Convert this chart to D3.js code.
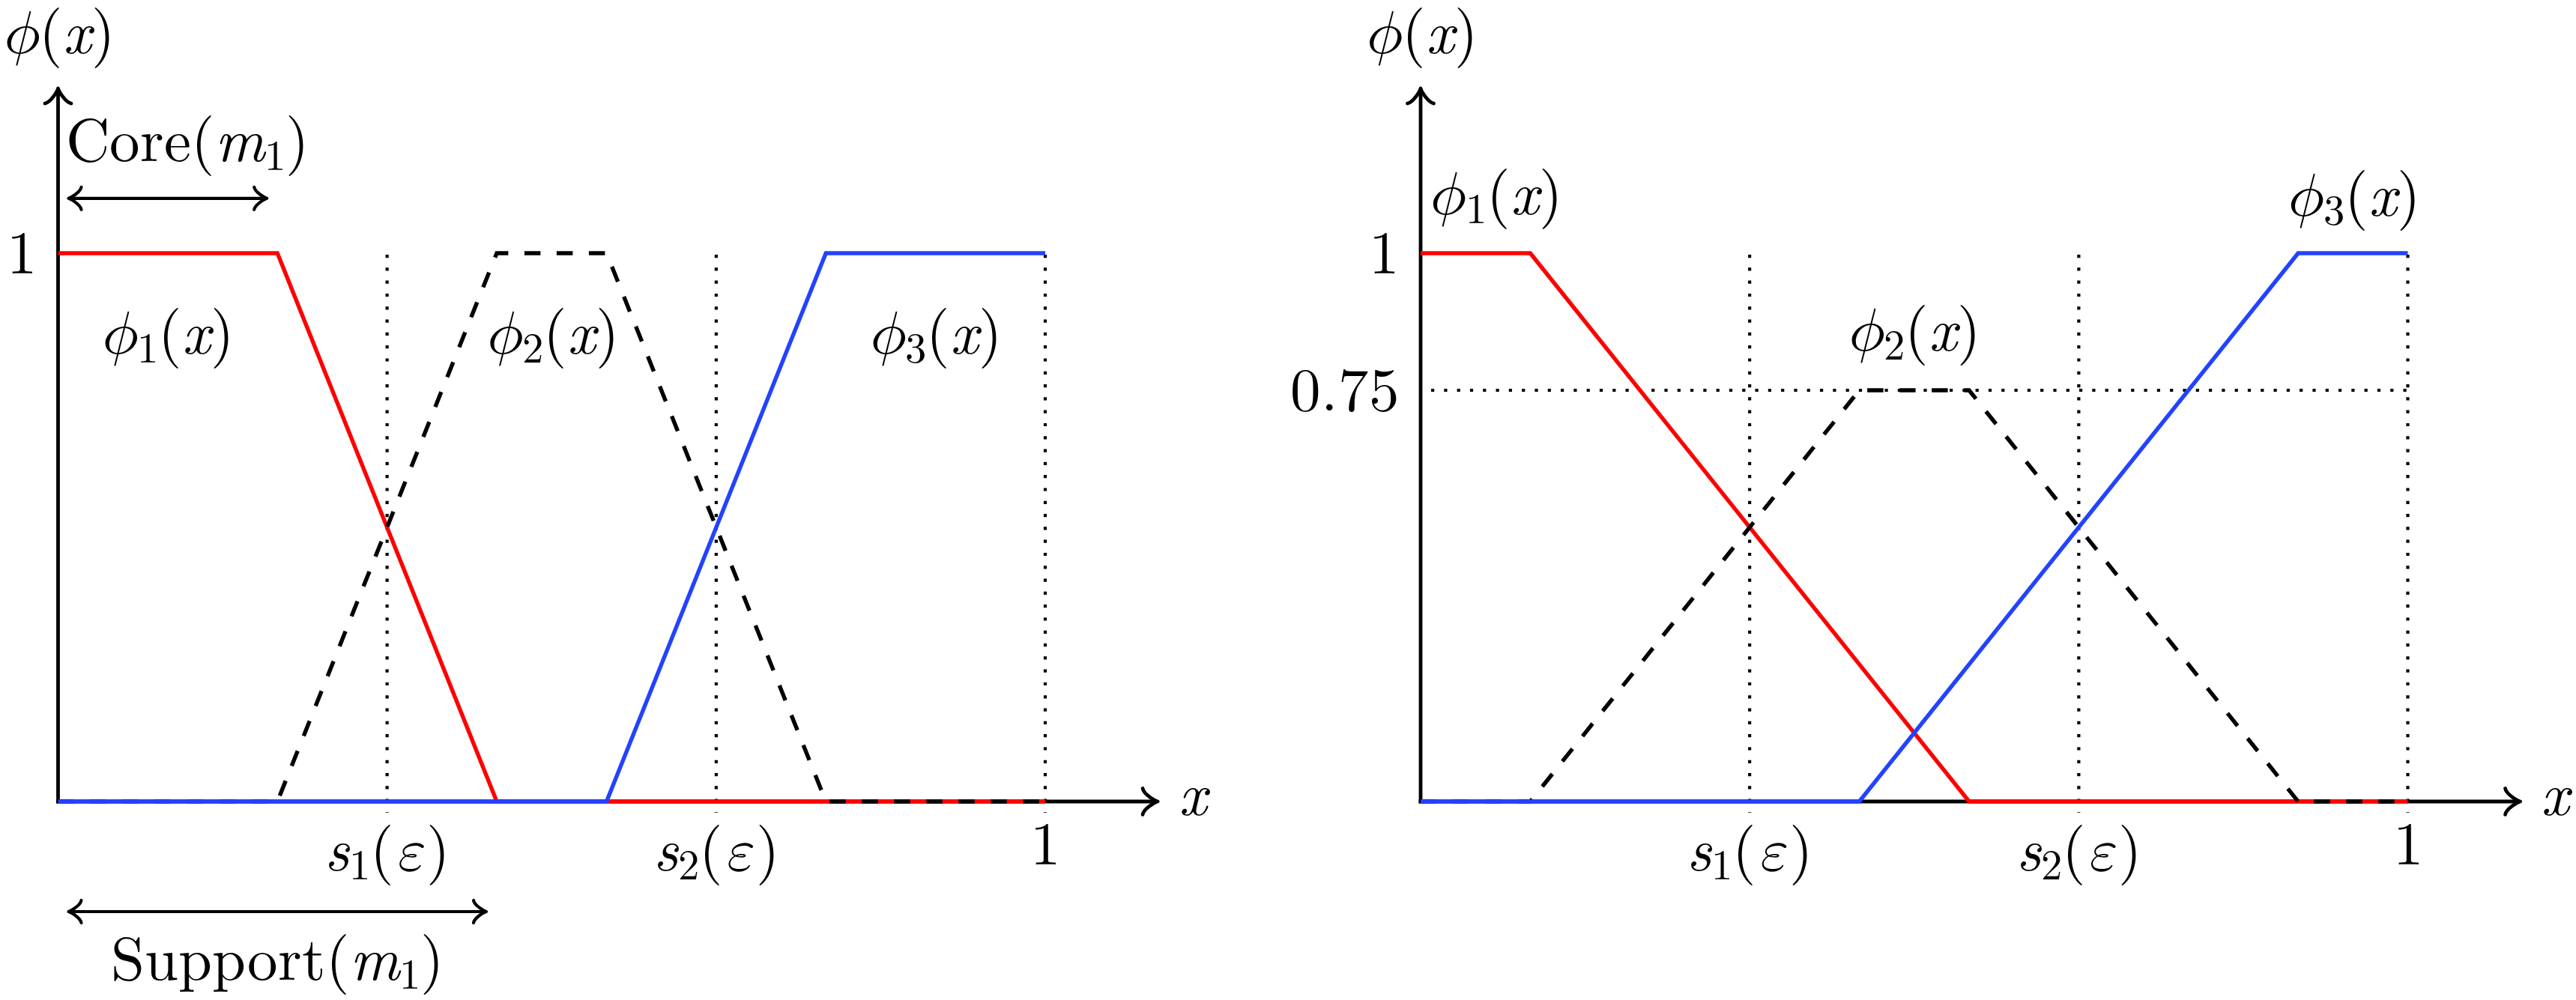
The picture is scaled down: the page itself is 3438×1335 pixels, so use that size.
<!DOCTYPE html>
<html><head><meta charset="utf-8">
<script src="https://cdn.jsdelivr.net/npm/d3@7"></script>
<style>
html,body{margin:0;padding:0;background:#fff}
@font-face { font-family: "LMRx"; font-style: normal; font-weight: 400;
  src: local("Latin Modern Roman"), local("LM Roman 10 Regular"), local("LMRoman10-Regular"), local("LM Roman 10");
  ascent-override: 78%; descent-override: 26%; }
@font-face { font-family: "LMRx"; font-style: italic; font-weight: 400;
  src: local("LM Roman 10 Italic"), local("LMRoman10-Italic"), local("Latin Modern Roman Italic");
  ascent-override: 78%; descent-override: 26%; }
</style>
</head><body>
<svg id="chart" width="3438" height="1335"></svg>
<script>
// ---------------- data ----------------
const leftPhi1X = [0, 0.2222, 0.4444, 1];
const leftPhi1Y = [1, 1, 0, 0];
const leftPhi2X = [0, 0.2222, 0.4444, 0.5556, 0.7778, 1];
const leftPhi2Y = [0, 0, 1, 1, 0, 0];
const leftPhi3X = [0, 0.5556, 0.7778, 1];
const leftPhi3Y = [0, 0, 1, 1];

const rightPhi1X = [0, 0.1111, 0.5556, 1];
const rightPhi1Y = [1, 1, 0, 0];
const rightPhi2X = [0, 0.1111, 0.4444, 0.5556, 0.8889, 1];
const rightPhi2Y = [0, 0, 0.75, 0.75, 0, 0];
const rightPhi3X = [0, 0.4444, 0.8889, 1];
const rightPhi3Y = [0, 0, 1, 1];

const xTickValues = [0.3333, 0.6667, 1];
const xTickLabels = ["s_1(ε)", "s_2(ε)", "1"];
const leftYTickValues = [1];
const leftYTickLabels = ["1"];
const rightYTickValues = [1, 0.75];
const rightYTickLabels = ["1", "0.75"];
const rightGuideLevels = [0.75];

const seriesLabels = ["ϕ_1(x)", "ϕ_2(x)", "ϕ_3(x)"];
const axisLabelY = "ϕ(x)";
const axisLabelX = "x";
const coreLabel = "Core(m_1)";
const supportLabel = "Support(m_1)";
const coreInterval = [0, 0.2222];
const supportInterval = [0, 0.4444];

// ---------------- layout / style ----------------
const FS = 81;
const FONT = '"LMRx", "Latin Modern Roman", "Liberation Serif", serif';
const GREEK_FONT = '"Latin Modern Math", "Latin Modern Roman", "DejaVu Serif", serif';
const RED = "#ff0000", BLUE = "#2342ff", BLACK = "#000";
const LW = 5.4, AXW = 4.8, DOTW = 4.2;
const PLOT_W = 1317.5, Y0 = 1070, Y1 = 338;
const panels = [
  { ox: 77.5,
    series: [[leftPhi1X, leftPhi1Y, RED, null], [leftPhi2X, leftPhi2Y, BLACK, "21.5 21.5"], [leftPhi3X, leftPhi3Y, BLUE, null]],
    yTicks: leftYTickValues, yLabels: leftYTickLabels, guides: [],
    labelPos: [[0.11, 0.817], [0.5, 0.817], [0.888, 0.817]],
    annot: true },
  { ox: 1896,
    series: [[rightPhi1X, rightPhi1Y, RED, null], [rightPhi2X, rightPhi2Y, BLACK, "21.5 21.5"], [rightPhi3X, rightPhi3Y, BLUE, null]],
    yTicks: rightYTickValues, yLabels: rightYTickLabels, guides: rightGuideLevels,
    labelPos: [[0.075, 1.071], [0.499, 0.822], [0.944, 1.068]],
    annot: false }
];

const svg = d3.select("#chart");
svg.append("rect").attr("width", 3438).attr("height", 1335).attr("fill", "#fff");

function setMath(t, str, fs) {
  t.text(null).style("font-family", FONT).style("font-size", fs + "px").attr("fill", "#000");
  const re = /([A-Za-z]{2,})|_(.)|([A-Za-zϕεφ])|([^_])/gu;
  let m, pendingUp = 0;
  while ((m = re.exec(str))) {
    const sp = t.append("tspan");
    if (m[2] !== undefined) {
      sp.text(m[2]).style("font-size", (fs * 0.7) + "px").style("font-style", "normal").attr("dy", fs * 0.15);
      pendingUp = fs * 0.15;
      continue;
    }
    if (pendingUp) { sp.attr("dy", -pendingUp); pendingUp = 0; }
    if (m[1]) sp.text(m[1]).style("font-style", "normal");
    else if (m[3]) {
      sp.text(m[3]).style("font-style", "italic");
      if (/[ϕεφ]/u.test(m[3])) sp.style("font-family", GREEK_FONT);
    }
    else sp.text(m[4]).style("font-style", "normal");
  }
}

// TikZ "to"-style arrow head, tip at (0,0) pointing +x
function headPath(len, half) {
  const ux = len / 4.25, uy = half / 4.5;
  return `M${-4.25*ux},${-4.5*uy} C${-4*ux},${-2.5*uy} ${-0.75*ux},${-0.25*uy} 0,0 ` +
         `C${-0.75*ux},${0.25*uy} ${-4*ux},${2.5*uy} ${-4.25*ux},${4.5*uy}`;
}
function arrowHead(g, x, y, angle, len, half, w) {
  g.append("path").attr("d", headPath(len, half))
    .attr("transform", `translate(${x},${y}) rotate(${angle})`)
    .attr("fill", "none").attr("stroke", "#000").attr("stroke-width", w)
    .attr("stroke-linecap", "round").attr("stroke-linejoin", "round");
}

function draw() {
panels.forEach(p => {
  const x = d3.scaleLinear().domain([0, 1]).range([p.ox, p.ox + PLOT_W]);
  const y = d3.scaleLinear().domain([0, 1]).range([Y0, Y1]);
  const g = svg.append("g");

  // axes lines with arrows
  const xEnd = x(1.1139), yEnd = y(1.3005);
  g.append("line").attr("x1", x(0) - AXW / 2).attr("x2", xEnd - 1).attr("y1", y(0)).attr("y2", y(0))
    .attr("stroke", "#000").attr("stroke-width", AXW);
  arrowHead(g, xEnd, y(0), 0, 20, 17.5, AXW);
  g.append("line").attr("x1", x(0)).attr("x2", x(0)).attr("y1", y(0) + AXW / 2).attr("y2", yEnd + 1)
    .attr("stroke", "#000").attr("stroke-width", AXW);
  arrowHead(g, x(0), yEnd, -90, 20, 17.5, AXW);

  // dotted guides
  xTickValues.forEach(v => {
    g.append("line").attr("x1", x(v)).attr("x2", x(v)).attr("y1", y(1) + 2).attr("y2", y(-0.02))
      .attr("stroke", "#000").attr("stroke-width", DOTW).attr("stroke-dasharray", `${DOTW} ${17.3 - DOTW}`);
  });
  p.guides.forEach(v => {
    g.append("line").attr("x1", x(0) + 14).attr("x2", x(1)).attr("y1", y(v)).attr("y2", y(v))
      .attr("stroke", "#000").attr("stroke-width", DOTW).attr("stroke-dasharray", `${DOTW} ${17.3 - DOTW}`);
  });

  // series
  const line = d3.line().x(d => x(d[0])).y(d => y(d[1]));
  p.series.forEach(([xs, ys, col, dash]) => {
    const pts = xs.map((v, i) => [v, ys[i]]);
    const path = g.append("path").attr("d", line(pts)).attr("fill", "none")
      .attr("stroke", col).attr("stroke-width", LW).attr("stroke-linejoin", "miter");
    if (dash) path.attr("stroke-dasharray", dash);
  });

  // x tick labels via d3 axis
  const gx = g.append("g").attr("transform", `translate(0,${y(0)})`)
    .call(d3.axisBottom(x).tickValues(xTickValues).tickSize(0).tickFormat((d, i) => xTickLabels[i]));
  gx.select(".domain").remove();
  gx.selectAll(".tick text").each(function (d, i) {
    const lab = xTickLabels[i];
    const t = d3.select(this);
    setMath(t, lab, FS);
    t.attr("dy", 0).attr("y", 31 + (lab.includes("(") ? 0.75 : 0.65) * FS).attr("text-anchor", "middle");
  });

  // y tick labels via d3 axis
  const gy = g.append("g").attr("transform", `translate(${x(0)},0)`)
    .call(d3.axisLeft(y).tickValues(p.yTicks).tickSize(0).tickFormat((d, i) => p.yLabels[i]));
  gy.select(".domain").remove();
  gy.selectAll(".tick text").each(function (d, i) {
    const t = d3.select(this);
    setMath(t, p.yLabels[i], FS);
    t.attr("dy", 0).attr("x", -28).attr("y", 26).attr("text-anchor", "end");
  });

  // axis titles
  setMath(g.append("text").attr("x", x(0)).attr("y", 71).attr("text-anchor", "middle"), axisLabelY, FS);
  setMath(g.append("text").attr("x", x(1.135)).attr("y", y(-0.0246)).attr("text-anchor", "start"), axisLabelX, FS);

  // series labels
  seriesLabels.forEach((lab, i) => {
    const [lx, ly] = p.labelPos[i];
    setMath(g.append("text").attr("x", x(lx)).attr("y", y(ly)).attr("text-anchor", "middle"), lab, FS);
  });

  // core/support annotation
  if (p.annot) {
    const inset = 14;
    const drawSpan = (iv, yy) => {
      const xa = x(iv[0]) + inset, xb = x(iv[1]) - inset, yv = y(yy);
      g.append("line").attr("x1", xa + 1).attr("x2", xb - 1).attr("y1", yv).attr("y2", yv)
        .attr("stroke", "#000").attr("stroke-width", 4.2);
      arrowHead(g, xb, yv, 0, 17, 15, 4.2);
      arrowHead(g, xa, yv, 180, 17, 15, 4.2);
      return [xa, xb];
    };
    const [ca] = drawSpan(coreInterval, 1.1);
    setMath(g.append("text").attr("x", ca - 4).attr("y", y(1.168)).attr("text-anchor", "start"), coreLabel, FS);
    const [sa, sb] = drawSpan(supportInterval, -0.2008);
    setMath(g.append("text").attr("x", (sa + sb) / 2).attr("y", y(-0.325)).attr("text-anchor", "middle"), supportLabel, FS);
  }
});
}
if (document.fonts && document.fonts.load) {
  Promise.all([
    document.fonts.load(`${FS}px "LMRx"`),
    document.fonts.load(`italic ${FS}px "LMRx"`)
  ]).catch(() => {}).then(draw);
} else { draw(); }
</script>
</body></html>
